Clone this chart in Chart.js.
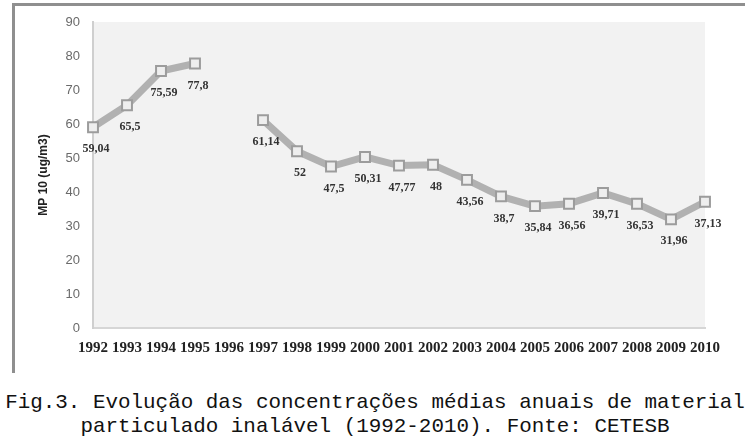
<!DOCTYPE html>
<html>
<head>
<meta charset="utf-8">
<script src="https://cdn.jsdelivr.net/npm/chart.js@4"></script>
<style>
  body { margin: 0; background: #fff; width: 750px; height: 440px; overflow: hidden; }
  #frame { position: absolute; left: 12px; top: 3px; width: 730px; height: 367px;
           border-top: 3px solid #8f8f8f; border-left: 3px solid #8f8f8f; }
  #wrap { position: absolute; left: 0; top: 0; width: 750px; height: 370px; }
  #caption { position: absolute; left: 0; top: 391px; width: 750px; text-align: center;
             font-family: 'Liberation Mono', 'DejaVu Sans Mono', monospace; font-size: 20.9px;
             line-height: 24px; color: #111; white-space: pre; }
</style>
</head>
<body>
<div id="frame"></div>
<div id="wrap"><canvas id="chart" width="750" height="370"></canvas></div>
<div id="caption">Fig.3. Evolução das concentrações médias anuais de material
particulado inalável (1992-2010). Fonte: CETESB</div>
<script>
'use strict';

// Years on the x axis
const years = ['1992', '1993', '1994', '1995', '1996', '1997', '1998', '1999', '2000', '2001',
  '2002', '2003', '2004', '2005', '2006', '2007', '2008', '2009', '2010'];

// Annual mean MP10 (no data for 1996)
const mp10 = [59.04, 65.5, 75.59, 77.8, null, 61.14, 52, 47.5, 50.31, 47.77,
  48, 43.56, 38.7, 35.84, 36.56, 39.71, 36.53, 31.96, 37.13];

const yTicks = [0, 10, 20, 30, 40, 50, 60, 70, 80, 90];

let canvasElem = document.getElementById('chart');

// light gray plot background
const plotBackground = {
  id: 'plotBackground',
  beforeDraw(chart) {
    const { ctx, chartArea } = chart;
    ctx.save();
    ctx.fillStyle = '#f2f2f2';
    ctx.fillRect(chartArea.left, chartArea.top, chartArea.right - chartArea.left, chartArea.bottom - chartArea.top);
    ctx.restore();
  },
};

// value labels under each point, with comma decimals
const valueLabels = {
  id: 'valueLabels',
  afterDatasetsDraw(chart) {
    const ctx = chart.ctx;
    const meta = chart.getDatasetMeta(0);
    ctx.save();
    ctx.font = 'bold 12px "Liberation Serif", serif';
    ctx.fillStyle = '#333';
    ctx.textAlign = 'center';
    ctx.textBaseline = 'middle';
    meta.data.forEach((pt, i) => {
      const v = mp10[i];
      if (v === null) return;
      ctx.fillText(String(v).replace('.', ','), pt.x + 3, pt.y + 22);
    });
    ctx.restore();
  },
};

function renderChart() {
  const data = {
    labels: years,
    datasets: [
      {
        label: 'MP 10',
        data: mp10,
        borderColor: 'rgba(160, 160, 160, 0.8)',
        borderWidth: 7,
        tension: 0,
        spanGaps: false,
        pointStyle: 'rect',
        pointRadius: 7,
        pointBackgroundColor: '#eeeeee',
        pointBorderColor: '#9c9c9c',
        pointBorderWidth: 2,
      },
    ],
  };

  const options = {
    responsive: false,
    animation: false,
    layout: { padding: { left: 0, right: 45, top: 22, bottom: 12 } },
    plugins: {
      legend: { display: false },
      tooltip: { enabled: false },
    },
    scales: {
      x: {
        offset: false,
        grid: { display: false, drawTicks: false },
        border: { display: true, color: '#d6d6d6', width: 2 },
        ticks: {
          autoSkip: false,
          maxRotation: 0,
          minRotation: 0,
          padding: 11,
          color: '#222',
          font: { family: '"Liberation Serif", serif', size: 15, weight: 'bold' },
        },
        afterFit(scale) { scale.height = 30; },
      },
      y: {
        min: 0,
        max: 90,
        afterBuildTicks(scale) { scale.ticks = yTicks.map(v => ({ value: v })); },
        grid: { display: false, drawTicks: false },
        border: { display: true, color: '#cfcfcf', width: 2 },
        ticks: {
          padding: 13,
          color: '#6a6a6a',
          font: { family: '"Liberation Sans", sans-serif', size: 13 },
        },
        title: {
          display: true,
          text: 'MP 10 (ug/m3)',
          color: '#222',
          padding: { top: 36, bottom: 0 },
          font: { family: '"Liberation Sans", sans-serif', size: 12, weight: 'bold' },
        },
        afterFit(scale) { scale.width = 93; },
      },
    },
  };

  new Chart(canvasElem, {
    type: 'line',
    data: data,
    options: options,
    plugins: [plotBackground, valueLabels],
  });
}

renderChart();
</script>
</body>
</html>
